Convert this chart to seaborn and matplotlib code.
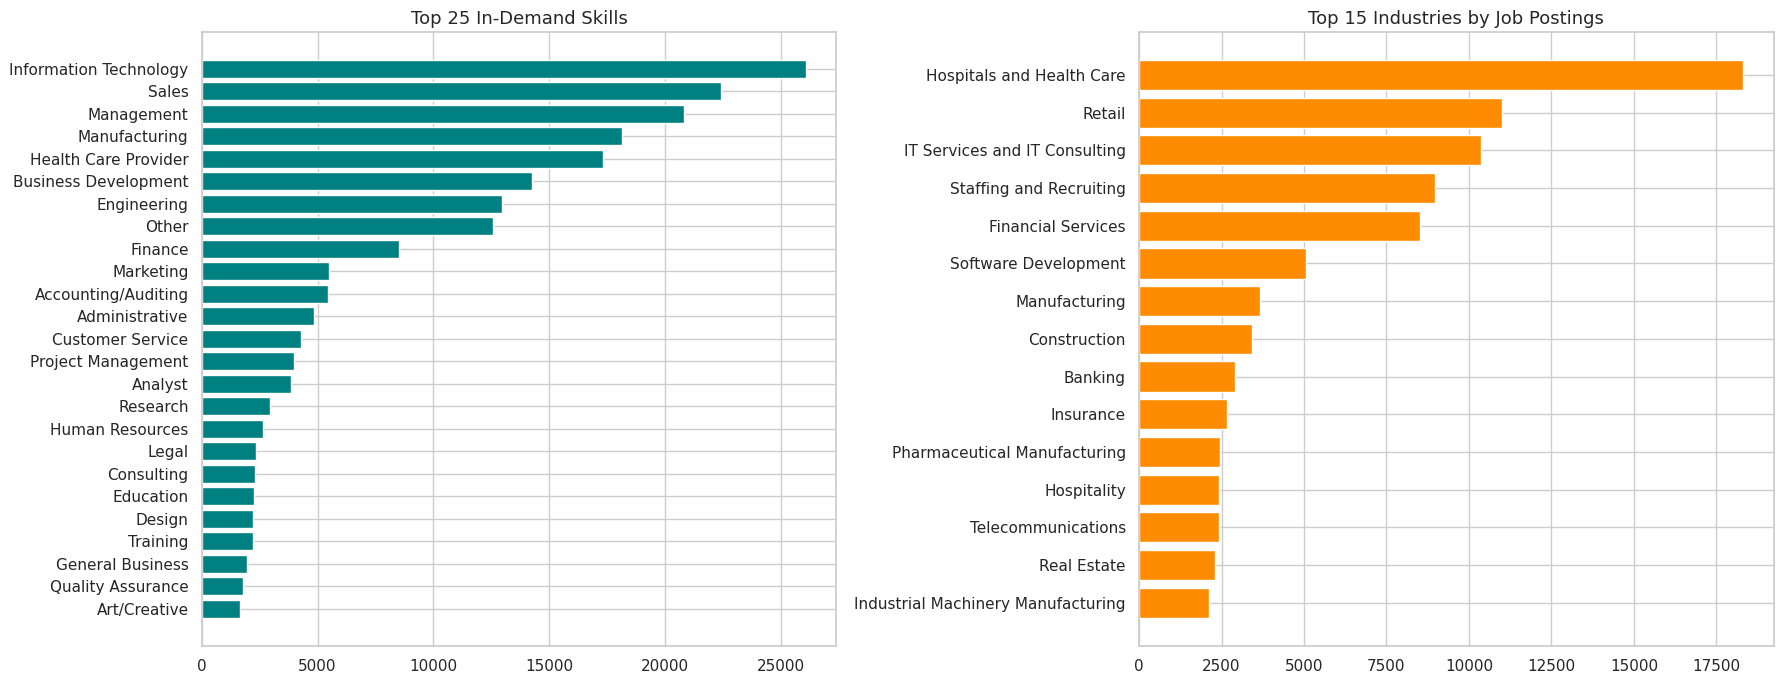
import matplotlib
matplotlib.use('Agg')
import matplotlib.pyplot as plt
import seaborn as sns
import pandas as pd

# Datos
habilidades = ['Information Technology', 'Sales', 'Management', 'Manufacturing',
               'Health Care Provider', 'Business Development', 'Engineering', 'Other',
               'Finance', 'Marketing', 'Accounting/Auditing', 'Administrative',
               'Customer Service', 'Project Management', 'Analyst', 'Research',
               'Human Resources', 'Legal', 'Consulting', 'Education', 'Design',
               'Training', 'General Business', 'Quality Assurance', 'Art/Creative']
conteo_habilidades = [26090, 22420, 20820, 18150, 17330, 14260, 12960, 12580,
                      8530, 5490, 5455, 4855, 4290, 3980, 3855, 2945, 2655, 2345,
                      2310, 2255, 2220, 2215, 1965, 1780, 1655]

industrias = ['Hospitals and Health Care', 'Retail', 'IT Services and IT Consulting',
              'Staffing and Recruiting', 'Financial Services', 'Software Development',
              'Manufacturing', 'Construction', 'Banking', 'Insurance',
              'Pharmaceutical Manufacturing', 'Hospitality', 'Telecommunications',
              'Real Estate', 'Industrial Machinery Manufacturing']
conteo_industrias = [18320, 11000, 10370, 8975, 8520, 5050, 3660, 3420, 2900,
                     2660, 2445, 2420, 2415, 2290, 2115]

tabla_hab = pd.DataFrame({'skill': habilidades, 'count': conteo_habilidades})
tabla_ind = pd.DataFrame({'industry': industrias, 'count': conteo_industrias})

sns.set_theme(style='whitegrid')
fig, axes = plt.subplots(1, 2, figsize=(17.84, 6.84), dpi=100)


def dibujar(ax, datos, cat, color, titulo):
    sns.barplot(data=datos, x='count', y=cat, color=color, saturation=1,
                width=0.8, ax=ax)
    n = len(datos)
    margen = 0.05 * (n - 1 + 0.8)
    ax.set_ylim(n - 1 + 0.4 + margen, -0.4 - margen)
    ax.yaxis.grid(True)
    ax.set_title(titulo, fontsize=13)
    ax.set_xlabel('')
    ax.set_ylabel('')


dibujar(axes[0], tabla_hab, 'skill', '#008080', 'Top 25 In-Demand Skills')
dibujar(axes[1], tabla_ind, 'industry', '#FF8C00', 'Top 15 Industries by Job Postings')

plt.subplots_adjust(left=0.1131, right=0.9942, top=0.9532, bottom=0.0560, wspace=0.477)
plt.savefig('out.png', dpi=100)
